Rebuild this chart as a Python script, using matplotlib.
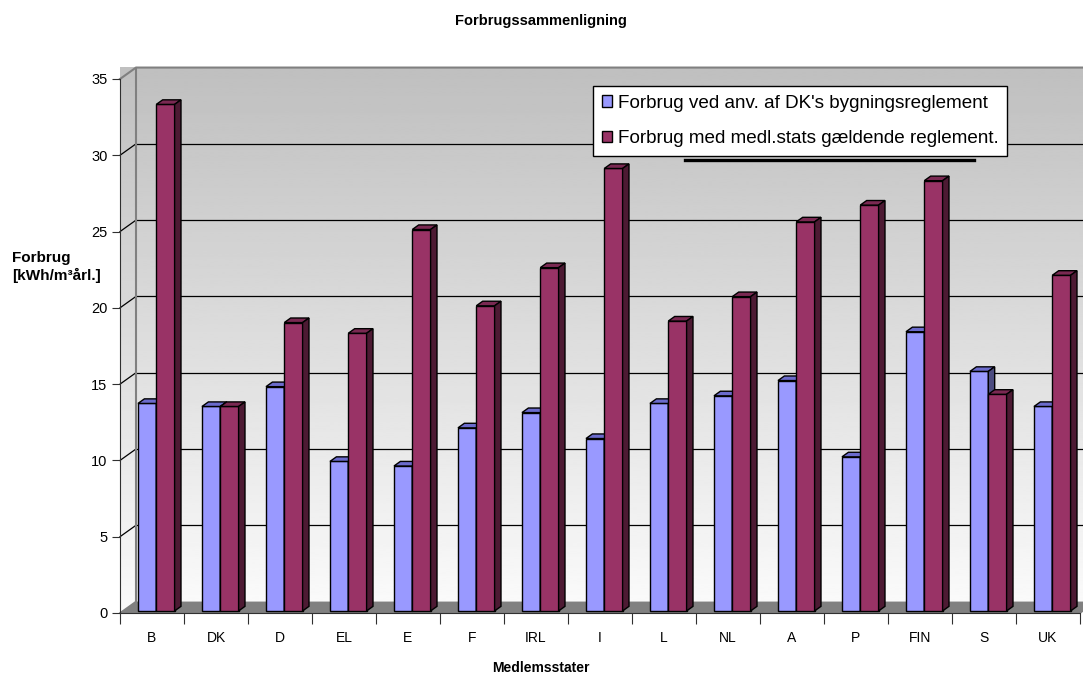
import numpy as np
import matplotlib
matplotlib.use("Agg")
import matplotlib.pyplot as plt
from matplotlib.patches import Polygon, Patch
from matplotlib.lines import Line2D

plt.rcParams['font.family'] = ['Liberation Sans', 'DejaVu Sans']

# data
lande = ['B', 'DK', 'D', 'EL', 'E', 'F', 'IRL', 'I', 'L', 'NL', 'A', 'P', 'FIN', 'S', 'UK']
dk_regl = [13.6, 13.4, 14.7, 9.8, 9.5, 12.0, 13.0, 11.3, 13.6, 14.1, 15.1, 10.1, 18.3, 15.7, 13.4]
egen_regl = [33.2, 13.4, 18.9, 18.2, 25.0, 20.0, 22.5, 29.0, 19.0, 20.6, 25.5, 26.6, 28.2, 14.2, 22.0]
serie_navne = ["Forbrug ved anv. af DK's bygningsreglement",
               "Forbrug med medl.stats gældende reglement."]
y_ticks = [0, 5, 10, 15, 20, 25, 30, 35]

# colours: front, top, side
farver = [('#9999ff', '#6b6bcc', '#4c4c80'),
          ('#993366', '#7a2952', '#4d1a33')]

W, H = 1083, 676
fig = plt.figure(figsize=(W / 100, H / 100), dpi=100)
ax = fig.add_axes([120 / W, (H - 613) / H, 960 / W, (613 - 79) / H])
n = len(lande)
ymax = 35
ax.set_xlim(0, n)
ax.set_ylim(0, ymax)

# depth of the "3D" box in data units
ddx, ddy = 0.25, 0.75

# walls with gradient
grad = np.linspace(0.98, 0.75, 256).reshape(-1, 1)
back = ax.imshow(grad, cmap='gray', vmin=0, vmax=1, aspect='auto', origin='lower',
                 extent=(ddx, n + ddx, ddy, ymax + ddy), zorder=0, clip_on=False,
                 interpolation='bilinear')
side = ax.imshow(grad, cmap='gray', vmin=0, vmax=1, aspect='auto', origin='lower',
                 extent=(0, ddx, 0, ymax + ddy), zorder=0, clip_on=False,
                 interpolation='bilinear')
side_poly = Polygon([(0, 0), (0, ymax), (ddx, ymax + ddy), (ddx, ddy)],
                    closed=True, transform=ax.transData, facecolor='none', edgecolor='none')
ax.add_patch(side_poly)
side_poly.set_clip_on(False)
side.set_clip_path(side_poly)

# floor
floor = Polygon([(0, 0), (n, 0), (n + ddx, ddy), (ddx, ddy)], closed=True,
                facecolor='#808080', edgecolor='none', zorder=1, clip_on=False)
ax.add_patch(floor)

# gridlines on back wall + left wall
for t in y_ticks[1:-1]:
    ax.plot([ddx, n + ddx], [t + ddy, t + ddy], color='black', lw=0.9, zorder=1, clip_on=False)
    ax.plot([0, ddx], [t, t + ddy], color='black', lw=0.9, zorder=1, clip_on=False)
# wall edges
ax.plot([ddx, ddx], [ddy, ymax + ddy], color='#808080', lw=1.5, zorder=1, clip_on=False)
ax.plot([0, ddx, n + ddx], [ymax, ymax + ddy, ymax + ddy], color='#808080', lw=1.5,
        zorder=1, clip_on=False)
ax.plot([0, ddx], [0, ddy], color='#808080', lw=1.2, zorder=1, clip_on=False)
ax.plot([n, n + ddx], [0, ddy], color='#808080', lw=1.2, zorder=1, clip_on=False)

# bars
bw = 0.286
start = 0.236
z0, dz = 0.18, 0.40
ox, oy = z0 * ddx, z0 * ddy
bx, by = dz * ddx, dz * ddy
for i in range(n):
    for s, vals in enumerate([dk_regl, egen_regl]):
        v = vals[i]
        x0 = i + start + s * bw + ox
        y0 = oy
        fc, tc, sc = farver[s]
        front = Polygon([(x0, y0), (x0 + bw, y0), (x0 + bw, y0 + v), (x0, y0 + v)],
                        closed=True, facecolor=fc, edgecolor='black', lw=1.0, zorder=3)
        top = Polygon([(x0, y0 + v), (x0 + bw, y0 + v), (x0 + bw + bx, y0 + v + by),
                       (x0 + bx, y0 + v + by)], closed=True, facecolor=tc,
                      edgecolor='black', lw=1.0, zorder=3)
        sid = Polygon([(x0 + bw, y0), (x0 + bw + bx, y0 + by), (x0 + bw + bx, y0 + v + by),
                       (x0 + bw, y0 + v)], closed=True, facecolor=sc,
                      edgecolor='black', lw=1.0, zorder=3)
        for p in (front, top, sid):
            p.set_clip_on(False)
            ax.add_patch(p)

# axes styling
for sp in ['top', 'right']:
    ax.spines[sp].set_visible(False)
ax.spines['left'].set_color('#303030')
ax.spines['bottom'].set_color('#303030')
ax.spines['left'].set_zorder(4)
ax.spines['bottom'].set_zorder(4)
ax.patch.set_visible(False)

ax.set_yticks(y_ticks)
ax.set_yticklabels([str(t) for t in y_ticks], fontsize=10.5)
ax.set_xticks(np.arange(n + 1))
ax.set_xticklabels([])
ax.set_xticks(np.arange(n) + 0.5, minor=True)
ax.set_xticklabels(lande, minor=True, fontsize=10)
ax.tick_params(axis='x', which='major', direction='out', length=8, color='#303030')
ax.tick_params(axis='x', which='minor', length=0, pad=13)
ax.tick_params(axis='y', direction='out', length=6, color='#303030', pad=3)

# texts
fig.text(541 / W, 1 - 21 / H, 'Forbrugssammenligning', ha='center', va='center',
         fontsize=10.5, fontweight='bold')
fig.text(541 / W, 1 - 668 / H, 'Medlemsstater', ha='center', va='center',
         fontsize=10, fontweight='bold')
fig.text(12 / W, 1 - 267 / H, 'Forbrug\n[kWh/m³årl.]', ha='left', va='center',
         fontsize=11, fontweight='bold', linespacing=1.3)

# legend
handles = [Patch(facecolor=farver[0][0], edgecolor='black'),
           Patch(facecolor=farver[1][0], edgecolor='black')]
leg = fig.legend(handles, serie_navne, loc='upper left',
                 bbox_to_anchor=(593 / W, 1 - 86 / H), fontsize=13.6, frameon=True,
                 fancybox=False, framealpha=1, edgecolor='black', handlelength=0.55,
                 handleheight=0.55, handletextpad=0.3, labelspacing=1.0, borderpad=0.45,
                 borderaxespad=0)
leg.get_frame().set_linewidth(1.0)
fig.add_artist(Line2D([685 / W, 974 / W], [1 - 159.5 / H, 1 - 159.5 / H], color='black',
                      lw=2.4, transform=fig.transFigure))

fig.savefig('out.png', dpi=100)
